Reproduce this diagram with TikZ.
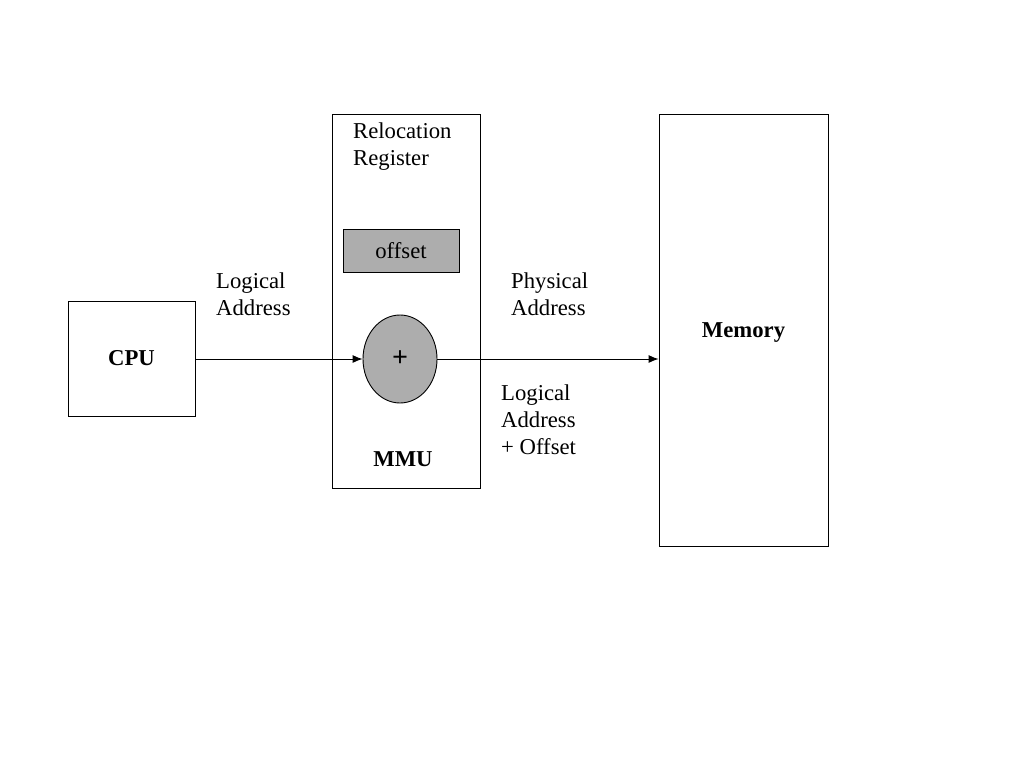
\documentclass[tikz,border=0pt]{standalone}
\usepackage{fontspec}
\setmainfont{Liberation Serif}
\usetikzlibrary{arrows.meta,positioning,shapes.geometric}

\tikzset{
  box/.style = {draw, line width=0.9pt, inner sep=0pt},
  regbox/.style = {box, fill=black!32},
  label/.style = {align=left, inner sep=0pt, anchor=west},
  flow/.style = {line width=0.9pt, -{Latex[length=10pt,width=8pt]}}
}

\begin{document}
\begin{tikzpicture}[x=1pt, y=-1pt, font=\fontsize{22.7}{27}\selectfont]
    \useasboundingbox (0,0) rectangle (1024,768);

    % boxes
    \node[box, minimum width=127pt, minimum height=115pt] (cpu) at (131.5,358.5) {\textbf{CPU}};
    \node[box, minimum width=148pt, minimum height=374pt] (mmu) at (406,301) {};
    \node[box, minimum width=169pt, minimum height=432pt] (mem) at (743.5,330) {};
    \node at (743.5,333) {\textbf{Memory}};
    \node at (403,459) {\textbf{MMU}};

    % relocation register
    \node[label] (reloc) at (353,147) {Relocation\\Register};
    \node[regbox, minimum width=116pt, minimum height=43pt] (offset) at (401,250.5) {\raisebox{-2pt}{offset}};
    \node[ellipse, draw, line width=0.9pt, fill=black!32, minimum width=74pt, minimum height=88pt, inner sep=0pt] (adder) at (400,359) {\fontsize{28}{28}\selectfont\textbf{+}};

    % connectors
    \draw[flow] (cpu.east |- adder) -- (adder.west);
    \draw[flow] (adder.east) -- (mem.west |- adder);

    % texts
    \node[label] (la) at (216,294) {Logical\\Address};
    \node[label] (pa) at (511,294) {Physical\\Address};
    \node[label] (lo) at (501,420) {Logical\\Address\\+ Offset};
\end{tikzpicture}
\end{document}
